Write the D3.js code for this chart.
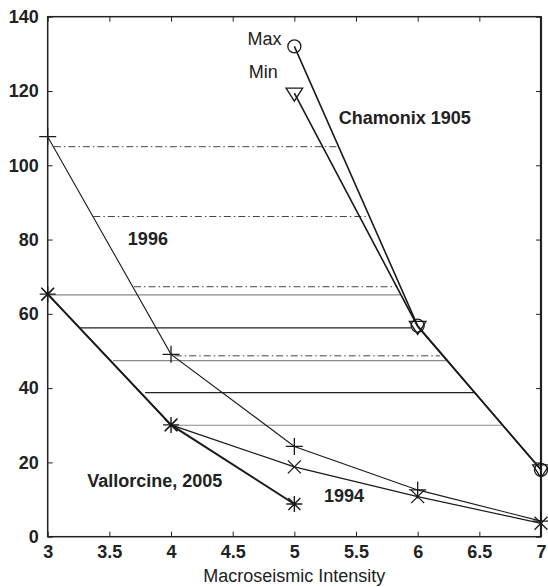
<!DOCTYPE html>
<html>
<head>
<meta charset="utf-8">
<script src="https://cdn.jsdelivr.net/npm/d3@7"></script>
<style>
  html, body { margin: 0; padding: 0; background: #fff; }
  svg { display: block; }
  text { font-family: "Liberation Sans", Arial, Helvetica, sans-serif; fill: #222; }
</style>
</head>
<body>
<svg id="chart" width="548" height="587"></svg>
<script>
// ---- data ----
const intensity = [3, 4, 5, 6, 7];
const values1996 = [107.7, 49.1, 24.3, 12.6, 4.2];
const values1994 = [65.3, 30.1, 18.8, 10.8, 3.6];
const vallorcineX = [3, 4, 5];
const vallorcineValues = [65.3, 30.1, 8.8];
const chamonixX = [5, 6, 7];
const chamonixMax = [132.0, 56.8, 18.0];
const chamonixMin = [119.4, 56.6, 18.0];

// horizontal reference segments (value level, start intensity, end intensity)
const dashLevels = [105.0, 86.2, 67.3, 48.7];
const dashStart = [3.05, 3.37, 3.70, 4.03];
const dashEnd = [5.36, 5.59, 5.82, 6.18];
const solidLevels = [65.1, 56.2, 47.4, 38.8, 30.0];
const solidStart = [3.0, 3.26, 3.53, 3.79, 4.0];
const solidEnd = [5.86, 5.95, 6.23, 6.46, 6.68];

const xTicks = [3, 3.5, 4, 4.5, 5, 5.5, 6, 6.5, 7];
const yTicks = [0, 20, 40, 60, 80, 100, 120, 140];

// ---- layout ----
const svg = d3.select("#chart");
const mLeft = 47.7, mRight = 541, mTop = 16.7, mBottom = 536.7;
const x = d3.scaleLinear().domain([3, 7]).range([mLeft, mRight]);
const y = d3.scaleLinear().domain([0, 140]).range([mBottom, mTop]);

// axes
const fmt = d => String(d);
const gB = svg.append("g").attr("transform", `translate(0,${mBottom})`)
  .call(d3.axisBottom(x).tickValues(xTicks).tickFormat(fmt).tickSizeInner(-5).tickSizeOuter(0).tickPadding(9));
const gT = svg.append("g").attr("transform", `translate(0,${mTop})`)
  .call(d3.axisTop(x).tickValues(xTicks).tickFormat("").tickSizeInner(-5).tickSizeOuter(0));
const gL = svg.append("g").attr("transform", `translate(${mLeft},0)`)
  .call(d3.axisLeft(y).tickValues(yTicks).tickFormat(fmt).tickSizeInner(-5).tickSizeOuter(0).tickPadding(9));
const gR = svg.append("g").attr("transform", `translate(${mRight},0)`)
  .call(d3.axisRight(y).tickValues(yTicks).tickFormat("").tickSizeInner(-5).tickSizeOuter(0));
[gB, gT, gL, gR].forEach(g => {
  g.select(".domain").remove();
  g.selectAll(".tick line").attr("stroke", "#222").attr("stroke-width", 1);
  g.selectAll(".tick text").attr("font-size", 18).attr("font-weight", "bold")
    .attr("font-family", '"Liberation Sans", Arial, sans-serif').attr("fill", "#222");
});
// box
svg.append("rect").attr("x", mLeft).attr("y", mTop).attr("width", mRight - mLeft).attr("height", mBottom - mTop)
  .attr("fill", "none").attr("stroke", "#222").attr("stroke-width", 1.5);
svg.append("line").attr("x1", mRight).attr("x2", mRight).attr("y1", mTop).attr("y2", mBottom)
  .attr("stroke", "#222").attr("stroke-width", 2.2);

// horizontal reference lines
dashLevels.forEach((v, i) => {
  svg.append("line").attr("x1", x(dashStart[i])).attr("x2", x(dashEnd[i]))
    .attr("y1", y(v)).attr("y2", y(v))
    .attr("stroke", "#444").attr("stroke-width", 1).attr("stroke-dasharray", "7,3,1.5,3");
});
solidLevels.forEach((v, i) => {
  svg.append("line").attr("x1", x(solidStart[i])).attr("x2", x(solidEnd[i]))
    .attr("y1", y(v)).attr("y2", y(v))
    .attr("stroke", i % 2 === 0 ? "#888" : "#222").attr("stroke-width", 1.2);
});

// series lines
const line = d3.line().x(d => x(d[0])).y(d => y(d[1]));
function drawLine(xs, ys, w) {
  svg.append("path").datum(xs.map((v, i) => [v, ys[i]])).attr("d", line)
    .attr("fill", "none").attr("stroke", "#1a1a1a").attr("stroke-width", w);
}
drawLine(intensity, values1996, 1.1);
drawLine(intensity, values1994, 1.2);
drawLine(vallorcineX, vallorcineValues, 2.0);
drawLine(chamonixX, chamonixMax, 1.6);
drawLine(chamonixX, chamonixMin, 1.6);

// markers
const shapes = {
  plus: (p, cx, cy) => { const s = 8.5; p.moveTo(cx - s, cy); p.lineTo(cx + s, cy); p.moveTo(cx, cy - s); p.lineTo(cx, cy + s); },
  cross: (p, cx, cy) => { const s = 6.5; p.moveTo(cx - s, cy - s); p.lineTo(cx + s, cy + s); p.moveTo(cx - s, cy + s); p.lineTo(cx + s, cy - s); },
  star: (p, cx, cy) => { const s = 8, d = 6; p.moveTo(cx - s, cy); p.lineTo(cx + s, cy); p.moveTo(cx, cy - s); p.lineTo(cx, cy + s);
    p.moveTo(cx - d, cy - d); p.lineTo(cx + d, cy + d); p.moveTo(cx - d, cy + d); p.lineTo(cx + d, cy - d); },
  circle: (p, cx, cy) => { p.moveTo(cx + 6.5, cy); p.arc(cx, cy, 6.5, 0, 2 * Math.PI); },
  triDown: (p, cx, cy) => { p.moveTo(cx - 8.3, cy - 5); p.lineTo(cx + 8.3, cy - 5); p.lineTo(cx, cy + 8); p.closePath(); }
};
function drawMarkers(xs, ys, shape, w) {
  svg.append("g").selectAll("path").data(xs.map((v, i) => [v, ys[i]])).join("path")
    .attr("d", d => { const p = d3.path(); shapes[shape](p, x(d[0]), y(d[1])); return p.toString(); })
    .attr("fill", "none").attr("stroke", "#1a1a1a").attr("stroke-width", w);
}
drawMarkers(intensity, values1996, "plus", 1.3);
drawMarkers(intensity, values1994, "cross", 1.3);
drawMarkers(vallorcineX, vallorcineValues, "star", 1.4);
drawMarkers(chamonixX, chamonixMax, "circle", 1.3);
drawMarkers(chamonixX, chamonixMin, "triDown", 1.3);

// annotations
function label(t, xv, yv, bold, anchor) {
  svg.append("text").attr("x", x(xv)).attr("y", y(yv)).attr("font-size", 18)
    .attr("font-weight", bold ? "bold" : "normal").attr("text-anchor", anchor || "start").text(t);
}
label("Max", 4.62, 132.5, false);
label("Min", 4.63, 123.4, false);
label("Chamonix 1905", 5.36, 111, true);
label("1996", 3.65, 78.5, true);
label("Vallorcine, 2005", 3.32, 13.3, true);
label("1994", 5.24, 9.4, true);

svg.append("text").attr("x", (mLeft + mRight) / 2).attr("y", 582).attr("text-anchor", "middle")
  .attr("font-size", 18).text("Macroseismic Intensity");
</script>
</body>
</html>
